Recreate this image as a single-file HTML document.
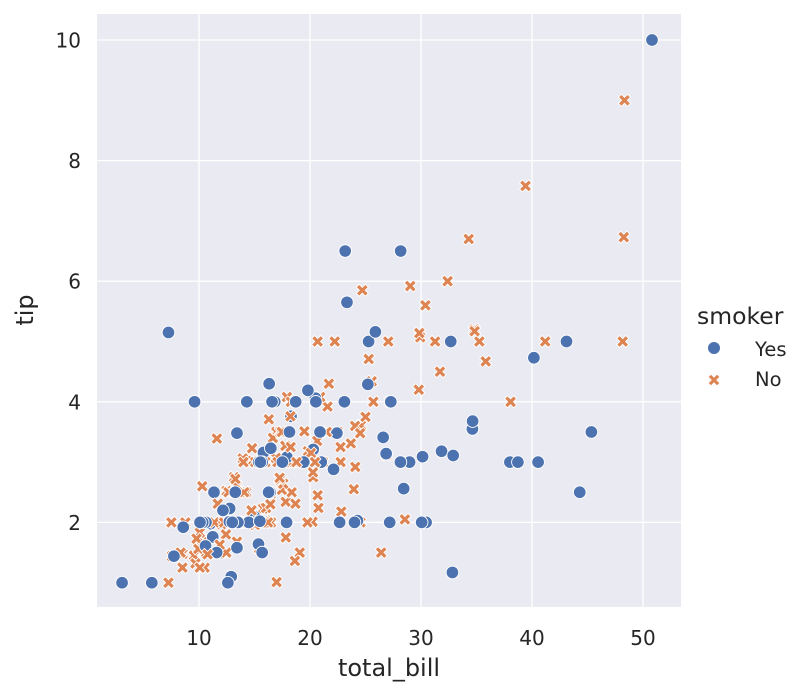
<!DOCTYPE html>
<html><head><meta charset="utf-8"><style>
body{margin:0;background:#fff;}
svg text{font-family:"DejaVu Sans","Liberation Sans",sans-serif;fill:#262626;}
</style></head><body>
<svg id="chart" width="807" height="695" xmlns="http://www.w3.org/2000/svg">
<rect x="97" y="14" width="584" height="593" fill="#eaeaf2"/>
<g id="grid"></g>
<g id="ticks"></g>
<g id="marks"></g>
<text x="389" y="676" font-size="24" text-anchor="middle">total_bill</text>
<text transform="translate(33,310) rotate(-90)" font-size="24" text-anchor="middle">tip</text>
<g>
<text x="697" y="324" font-size="23.5">smoker</text>
<g>
<circle cx="714" cy="348" r="6.5" fill="#4c72b0" stroke="#fff" stroke-width="1"/>
<text x="755" y="356" font-size="19.5">Yes</text></g>
<g>
<path id="legx" d="" fill="#dd8452" stroke="#fff" stroke-width="1"/>
<text x="755" y="386" font-size="19.5">No</text></g>
</g>
</svg>
<script>
const bills=[16.99,10.34,21.01,23.68,24.59,25.29,8.77,26.88,15.04,14.78,10.27,35.26,15.42,18.43,14.83,21.58,10.33,16.29,16.97,20.65,17.92,20.29,15.77,39.42,19.82,17.81,13.37,12.69,21.7,19.65,9.55,18.35,15.06,20.69,17.78,24.06,16.31,16.93,18.69,31.27,16.04,17.46,13.94,9.68,30.4,18.29,22.23,32.4,28.55,18.04,12.54,10.29,34.81,9.94,25.56,19.49,38.01,26.41,11.24,48.27,20.29,13.81,11.02,18.29,17.59,20.08,16.45,3.07,20.23,15.01,12.02,17.07,26.86,25.28,14.73,10.51,17.92,27.2,22.76,17.29,19.44,16.66,10.07,32.68,15.98,34.83,13.03,18.28,24.71,21.16,28.97,22.49,5.75,16.32,22.75,40.17,27.28,12.03,21.01,12.46,11.35,15.38,44.3,22.42,20.92,15.36,20.49,25.21,18.24,14.31,14.0,7.25,38.07,23.95,25.71,17.31,29.93,10.65,12.43,24.08,11.69,13.42,14.26,15.95,12.48,29.8,8.52,14.52,11.38,22.82,19.08,20.27,11.17,12.26,18.26,8.51,10.33,14.15,16.0,13.16,17.47,34.3,41.19,27.05,16.43,8.35,18.64,11.87,9.78,7.51,14.07,13.13,17.26,24.55,19.77,29.85,48.17,25.0,13.39,16.49,21.5,12.66,16.21,13.81,17.51,24.52,20.76,31.71,10.59,10.63,50.81,15.81,7.25,31.85,16.82,32.9,17.89,14.48,9.6,34.63,34.65,23.33,45.35,23.17,40.55,20.69,20.9,30.46,18.15,23.1,15.69,19.81,28.44,15.48,16.58,7.56,10.34,43.11,13.0,13.51,18.71,12.74,13.0,16.4,20.53,16.47,26.59,38.73,24.27,12.76,30.06,25.89,48.33,13.27,28.17,12.9,28.15,11.59,7.74,30.14,12.16,13.42,8.58,15.98,13.42,16.27,10.09,20.45,13.28,22.12,24.01,15.69,11.61,10.77,15.53,10.07,12.6,32.83,35.83,29.03,27.18,22.67,17.82,18.78];
const tips=[1.01,1.66,3.5,3.31,3.61,4.71,2.0,3.12,1.96,3.23,1.71,5.0,1.57,3.0,3.02,3.92,1.67,3.71,3.5,3.35,4.08,2.75,2.23,7.58,3.18,2.34,2.0,2.0,4.3,3.0,1.45,2.5,3.0,2.45,3.27,3.6,2.0,3.07,2.31,5.0,2.24,2.54,3.06,1.32,5.6,3.0,5.0,6.0,2.05,3.0,2.5,2.6,5.2,1.56,4.34,3.51,3.0,1.5,1.76,6.73,3.21,2.0,1.98,3.76,2.64,3.15,2.47,1.0,2.01,2.09,1.97,3.0,3.14,5.0,2.2,1.25,3.08,4.0,3.0,2.71,3.0,3.4,1.83,5.0,2.03,5.17,2.0,4.0,5.85,3.0,3.0,3.5,1.0,4.3,3.25,4.73,4.0,1.5,3.0,1.5,2.5,3.0,2.5,3.48,4.08,1.64,4.06,4.29,3.76,4.0,3.0,1.0,4.0,2.55,4.0,3.5,5.07,1.5,1.8,2.92,2.31,1.68,2.5,2.0,2.52,4.2,1.48,2.0,2.0,2.18,1.5,2.83,1.5,2.0,3.25,1.25,2.0,2.0,2.0,2.75,3.5,6.7,5.0,5.0,2.3,1.5,1.36,1.63,1.73,2.0,2.5,2.0,2.74,2.0,2.0,5.14,5.0,3.75,2.61,2.0,3.5,2.5,2.0,2.0,3.0,3.48,2.24,4.5,1.61,2.0,10.0,3.16,5.15,3.18,4.0,3.11,2.0,2.0,4.0,3.55,3.68,5.65,3.5,6.5,3.0,5.0,3.5,2.0,3.5,4.0,1.5,4.19,2.56,2.02,4.0,1.44,2.0,5.0,2.0,2.0,4.0,2.01,2.0,2.5,4.0,3.23,3.41,3.0,2.03,2.23,2.0,5.16,9.0,2.5,6.5,1.1,3.0,1.5,1.44,3.09,2.2,3.48,1.92,3.0,1.58,2.5,2.0,3.0,2.72,2.88,2.0,3.0,3.39,1.47,3.0,1.25,1.0,1.17,4.67,5.92,2.0,2.0,1.75,3.0];
const smoker=("NNNNNNNNNN"+"NNNNNNNNNN"+"NNNNNNNNNN"+"NNNNNNNNNN"+"NNNNNNNNNN"+
"NNNNNNYNYN"+"YYYYNNNYNY"+"NNYYNNYNNN"+"YNNYNNNNNN"+"YNYYNYYYYN"+
"YYYYNYYYNY"+"NNNNNNNNNN"+"NNNNNNNNNN"+"NNNNNNNNYN"+"NNNNNNNNNN"+
"NNNNNNNNNN"+"NNNNYNNNYY"+"YYYYYYYYYY"+"YYYYYNYYYY"+"YYYYYNYYYY"+
"YYYYYYYYYY"+"YYNYYYYYYY"+"YYYNYYYNNY"+"YYNNYNYYNN"+"YYNN");
const xTicks=[10,20,30,40,50];
const yTicks=[2,4,6,8,10];
const NS="http://www.w3.org/2000/svg";
const sx=v=>88+v*11.1, sy=v=>643-v*60.3;
function mk(tag,attrs,parent){const e=document.createElementNS(NS,tag);for(const k in attrs)e.setAttribute(k,attrs[k]);parent.appendChild(e);return e;}
const grid=document.getElementById('grid'),ticks=document.getElementById('ticks'),marks=document.getElementById('marks');
xTicks.forEach(t=>{const l=mk('line',{x1:sx(t),x2:sx(t),y1:14,y2:607,stroke:'#fff','stroke-width':1.3},grid);


const tx=mk('text',{x:sx(t),y:645,'font-size':20,'text-anchor':'middle'},ticks);tx.textContent=t;

});
yTicks.forEach(t=>{const l=mk('line',{x1:97,x2:681,y1:sy(t),y2:sy(t),stroke:'#fff','stroke-width':1.3},grid);


const tx=mk('text',{x:81,y:sy(t)+7.5,'font-size':20,'text-anchor':'end'},ticks);tx.textContent=t;

});
function xPath(cx,cy){const a=6,b=2.9;
return `M${cx-a+b},${cy-a} L${cx},${cy-b} L${cx+a-b},${cy-a} L${cx+a},${cy-a+b} L${cx+b},${cy} L${cx+a},${cy+a-b} L${cx+a-b},${cy+a} L${cx},${cy+b} L${cx-a+b},${cy+a} L${cx-a},${cy+a-b} L${cx-b},${cy} L${cx-a},${cy-a+b} Z`;}
document.getElementById('legx').setAttribute('d',xPath(714,380));
bills.forEach((b,i)=>{let e;
if(smoker[i]==='Y'){e=mk('circle',{cx:sx(b),cy:sy(tips[i]),r:6.3,fill:'#4c72b0',stroke:'#fff','stroke-width':0.9},marks);
}
else{e=mk('path',{d:xPath(sx(b),sy(tips[i])),fill:'#dd8452',stroke:'#fff','stroke-width':0.9},marks);
}
});
</script>
</body></html>
